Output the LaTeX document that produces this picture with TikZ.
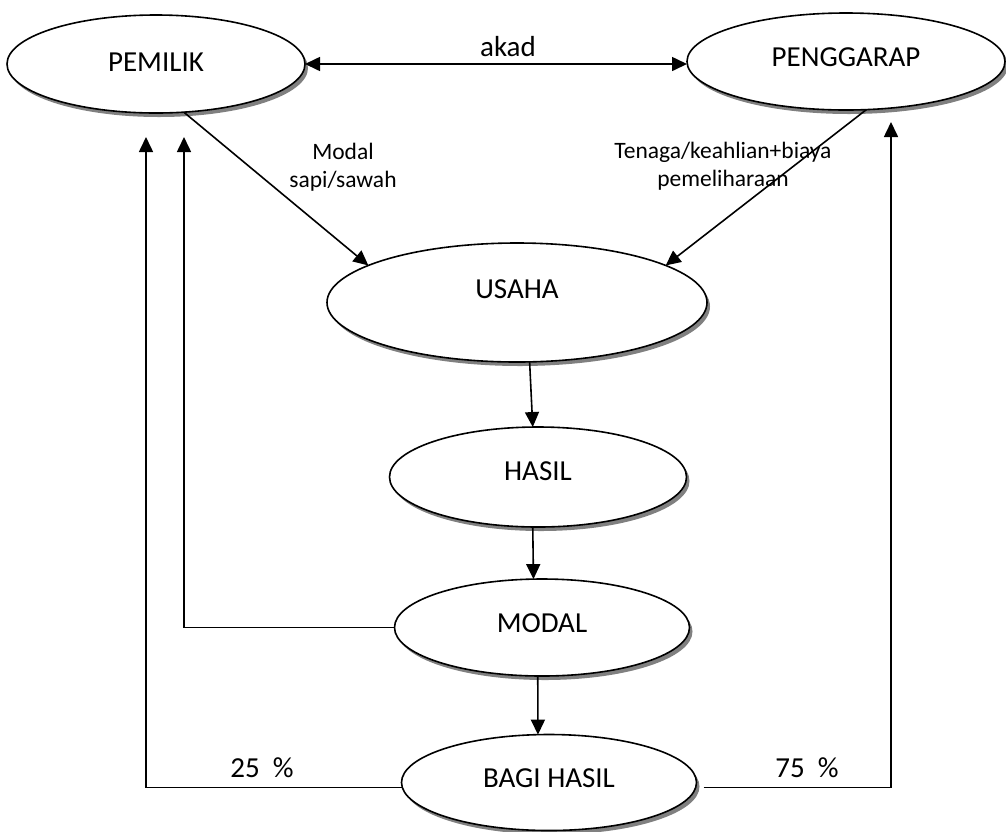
\documentclass[tikz,border=0pt]{standalone}
\usepackage{fontspec}
\setmainfont{Carlito}
\usetikzlibrary{shapes.geometric,arrows.meta,shadows}
\begin{document}
\begin{tikzpicture}[x=1pt,y=-1pt,
  ell/.style={ellipse, draw, line width=1.6pt, fill=white, inner sep=0pt, outer sep=0pt,
    drop shadow={shadow xshift=3pt, shadow yshift=-4pt, fill=black!50, opacity=1},
    font=\fontsize{29pt}{35pt}\selectfont},
  arr/.style={-{Triangle[length=15pt,width=14pt]}, line width=1.6pt},
  arrboth/.style={{Triangle[length=15pt,width=14pt]}-{Triangle[length=15pt,width=14pt]}, line width=1.6pt},
  small/.style={font=\fontsize{23.5pt}{28.5pt}\selectfont, align=center, inner sep=0pt},
  big/.style={font=\fontsize{29pt}{35pt}\selectfont, inner sep=0pt}]
\useasboundingbox (0,0) rectangle (1006,831);
% ellipses
\node[ell, minimum width=298pt, minimum height=98pt] (pemilik) at (156,64) {\raisebox{4pt}{PEMILIK}};
\node[ell, minimum width=318pt, minimum height=97pt] (penggarap) at (846,61.5) {\raisebox{9pt}{PENGGARAP}};
\node[ell, minimum width=380pt, minimum height=119pt] (usaha) at (517,302.5) {\raisebox{27pt}{USAHA}};
\node[ell, minimum width=297pt, minimum height=100pt] (hasil) at (538,477) {\raisebox{12pt}{HASIL}};
\node[ell, minimum width=295pt, minimum height=97pt] (modal) at (542,627.5) {\raisebox{9pt}{MODAL}};
\node[ell, minimum width=295pt, minimum height=96pt] (bagi) at (549,782.5) {\raisebox{9pt}{BAGI HASIL}};
% labels
\node[big] (akad) at (508,47) {akad};
\node[small] (lblmodal) at (343,167) {Modal\\sapi/sawah};
\node[small] (lbltenaga) at (723,166) {Tenaga/keahlian+biaya\\pemeliharaan};
\node[big] (p25) at (262,768) {25\ \ \%};
\node[big] (p75) at (807,768) {75\ \ \%};
% free ends
\coordinate (t1) at (184,137);
\coordinate (t2) at (146,137);
\coordinate (t3) at (891,122);
% connectors
\draw[arrboth] (pemilik.east) -- (pemilik.east -| penggarap.west);
\draw[arr] (pemilik.-60) -- (usaha.166);
\draw[arr] (penggarap.-67) -- (usaha.14);
\draw[arr] (usaha.-78) -- (hasil.96);
\draw[arr] (hasil.-96) -- (modal.100);
\draw[arr] (modal.-95) -- (bagi.103);
\draw[arr] (modal.west) -| (t1);
\draw[arr] (bagi.182) -| (t2);
\draw[arr] ([xshift=8pt]bagi.-2) -| (t3);
\end{tikzpicture}
\end{document}
